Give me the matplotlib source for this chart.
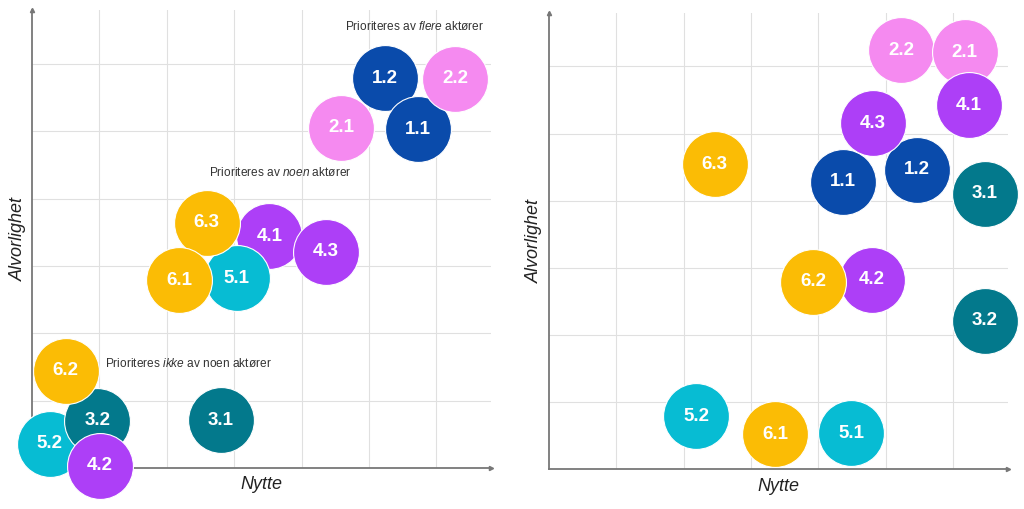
import matplotlib.pyplot as plt

plt.rcParams['font.family'] = ['Liberation Sans', 'DejaVu Sans']
plt.rcParams['mathtext.fontset'] = 'custom'
plt.rcParams['mathtext.rm'] = 'Liberation Sans'
plt.rcParams['mathtext.it'] = 'Liberation Sans:italic'

# left panel: Nytte (x) vs Alvorlighet (y), listed in drawing order
left_labels = ['1.2', '1.1', '2.2', '2.1', '4.1', '4.3', '5.1', '6.3', '6.1',
               '5.2', '3.2', '6.2', '4.2', '3.1']
left_x = [5.24, 5.72, 6.28, 4.59, 3.52, 4.36, 3.04, 2.59, 2.18,
          0.26, 0.97, 0.50, 1.01, 2.80]
left_y = [5.79, 5.03, 5.78, 5.05, 3.44, 3.21, 2.82, 3.64, 2.79,
          0.36, 0.70, 1.44, 0.03, 0.71]

# right panel
right_labels = ['2.2', '2.1', '4.1', '1.1', '1.2', '4.3', '3.1', '6.3',
                '4.2', '6.2', '3.2', '5.2', '6.1', '5.1']
right_x = [5.23, 6.17, 6.23, 4.37, 5.46, 4.81, 6.47, 2.46,
           4.79, 3.92, 6.47, 2.19, 3.36, 4.49]
right_y = [6.24, 6.21, 5.42, 4.28, 4.46, 5.15, 4.10, 4.54,
           2.82, 2.79, 2.21, 0.79, 0.52, 0.54]

group_colors = {'1': '#0a4bab', '2': '#f58af0', '3': '#03798c',
                '4': '#ad3ff7', '5': '#07bcd3', '6': '#fbbc05'}

xlabel = 'Nytte'
ylabel = 'Alvorlighet'

fig = plt.figure(figsize=(10.24, 5.09), dpi=100)
ax1 = fig.add_axes([0.0313, 0.0806, 0.4482, 0.8998])
ax2 = fig.add_axes([0.5358, 0.0780, 0.4485, 0.8971])


def setup(ax):
    ax.set_xlim(0, 6.81)
    ax.set_ylim(0, 6.8)
    ax.set_xticks(range(1, 7))
    ax.set_yticks(range(1, 7))
    ax.tick_params(length=0, labelbottom=False, labelleft=False)
    ax.grid(True, color='#e0e0e0', linewidth=0.8)
    ax.set_axisbelow(True)
    for s in ['top', 'right']:
        ax.spines[s].set_visible(False)
    for s in ['left', 'bottom']:
        ax.spines[s].set_color('#777777')
        ax.spines[s].set_linewidth(1.3)
    ax.plot([1], [0], marker='>', color='#777777', markersize=3,
            transform=ax.transAxes, clip_on=False)
    ax.plot([0], [1], marker='^', color='#777777', markersize=3,
            transform=ax.transAxes, clip_on=False)
    ax.set_xlabel(xlabel, fontsize=13, style='italic', color='#222222', labelpad=6)
    ax.set_ylabel(ylabel, fontsize=13, style='italic', color='#222222', labelpad=4)


def bubbles(ax, labels, xs, ys):
    for i, (lab, x, y) in enumerate(zip(labels, xs, ys)):
        ax.scatter(x, y, s=2250, color=group_colors[lab[0]], edgecolors='white',
                   linewidths=0.8, zorder=3 + i, clip_on=False)
        ax.text(x, y, lab, ha='center', va='center', color='white',
                fontsize=13.5, fontweight='bold', zorder=3 + i)


setup(ax1)
setup(ax2)
bubbles(ax1, left_labels, left_x, left_y)
bubbles(ax2, right_labels, right_x, right_y)

ax1.text(5.68, 6.56, r'Prioriteres av $\mathit{flere}$ aktører', ha='center',
         va='center', fontsize=8.6, color='#333333')
ax1.text(3.68, 4.39, r'Prioriteres av $\mathit{noen}$ aktører', ha='center',
         va='center', fontsize=8.6, color='#333333')
ax1.text(2.32, 1.545, r'Prioriteres $\mathit{ikke}$ av noen aktører', ha='center',
         va='center', fontsize=8.6, color='#333333')

fig.savefig('out.png', dpi=100)
